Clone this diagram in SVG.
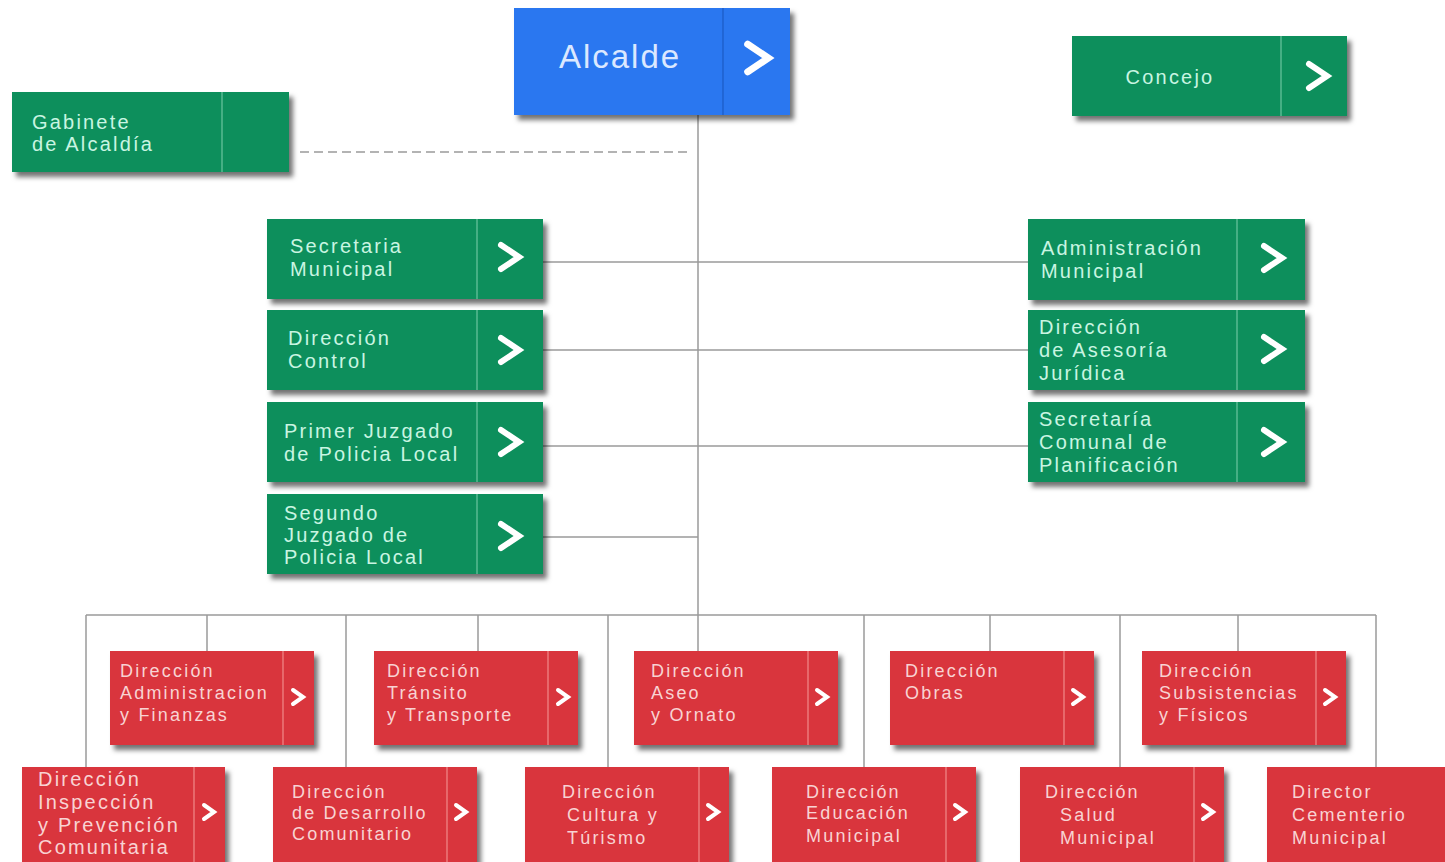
<svg xmlns="http://www.w3.org/2000/svg" width="1445" height="862" viewBox="0 0 1445 862">
<defs>
<filter id="sh" x="-10%" y="-10%" width="130%" height="140%">
<feDropShadow dx="4" dy="5" stdDeviation="2.5" flood-color="#000" flood-opacity="0.55"/>
</filter>
<path id="chevL" d="M-9,-12 L9,0 L-9,12" fill="none" stroke="#ffffff" stroke-width="6" stroke-linecap="round" stroke-linejoin="miter"/>
<path id="chevS" d="M-5,-7 L5,0 L-5,7" fill="none" stroke="#ffffff" stroke-width="4" stroke-linecap="round" stroke-linejoin="miter"/>
</defs>
<style>
.g{fill:#0f8f5c;filter:url(#sh)}
.r{fill:#d9363c;filter:url(#sh)}
.b{fill:#2b77f0;filter:url(#sh)}
.dg{stroke:#6cc59f;stroke-width:1.2}
.dr{stroke:#f08a8a;stroke-width:1.2}
.db{stroke:#1b5bc4;stroke-width:1.2}
.tg{font-family:"Liberation Sans",Arial,sans-serif;font-size:20px;letter-spacing:2.2px;fill:#c9f5e2}
.tr{font-family:"Liberation Sans",Arial,sans-serif;font-size:18px;letter-spacing:2.2px;fill:#f8d3d3}
.tr2{font-family:"Liberation Sans",Arial,sans-serif;font-size:20px;letter-spacing:2.2px;fill:#f8d3d3}
.ta{font-family:"Liberation Sans",Arial,sans-serif;font-size:33px;letter-spacing:2px;fill:#dbe8ff}
.ln{stroke:#9a9a9a;stroke-width:1.5;fill:none}
</style>
<rect width="1445" height="862" fill="#ffffff"/>
<g id="connectors" class="ln">
<path d="M698,115 V651"/>
<path d="M300,152 H690" stroke-dasharray="9 5"/>
<path d="M543,262 H1028 M543,350 H1028 M543,446 H1028 M543,537 H698"/>
<path d="M86,615 H1376"/>
<path d="M86,615 V767 M207,615 V651 M346,615 V767 M478,615 V651 M608,615 V767 M864,615 V767 M990,615 V651 M1120,615 V767 M1238,615 V651 M1376,615 V767"/>
</g>
<g id="alcalde"><rect class="b" x="514" y="8" width="276" height="107"/><line class="db" x1="723" y1="8" x2="723" y2="115"/><text class="ta" x="620" y="68" text-anchor="middle">Alcalde</text><use href="#chevL" transform="translate(758,58) scale(1.15)"/></g>
<g id="concejo"><rect class="g" x="1072" y="36" width="275" height="80"/><line class="dg" x1="1281" y1="36" x2="1281" y2="116"/><text class="tg" x="1170" y="84" text-anchor="middle">Concejo</text><use href="#chevL" transform="translate(1318,76)"/></g>
<g id="gabinete"><rect class="g" x="12" y="92" width="277" height="80"/><line class="dg" x1="222" y1="92" x2="222" y2="172"/><text class="tg" x="32" y="129">Gabinete</text><text class="tg" x="32" y="151">de Alcaldía</text></g>
<g id="secretaria-municipal"><rect class="g" x="267" y="219" width="276" height="80"/><line class="dg" x1="477" y1="219" x2="477" y2="299"/><text class="tg" x="290" y="253">Secretaria</text><text class="tg" x="290" y="276">Municipal</text><use href="#chevL" transform="translate(510,257)"/></g>
<g id="direccion-control"><rect class="g" x="267" y="310" width="276" height="80"/><line class="dg" x1="477" y1="310" x2="477" y2="390"/><text class="tg" x="288" y="345">Dirección</text><text class="tg" x="288" y="368">Control</text><use href="#chevL" transform="translate(510,350)"/></g>
<g id="primer-juzgado"><rect class="g" x="267" y="402" width="276" height="80"/><line class="dg" x1="477" y1="402" x2="477" y2="482"/><text class="tg" x="284" y="438">Primer Juzgado</text><text class="tg" x="284" y="461">de Policia Local</text><use href="#chevL" transform="translate(510,442)"/></g>
<g id="segundo-juzgado"><rect class="g" x="267" y="494" width="276" height="80"/><line class="dg" x1="477" y1="494" x2="477" y2="574"/><text class="tg" x="284" y="520">Segundo</text><text class="tg" x="284" y="542">Juzgado de</text><text class="tg" x="284" y="564">Policia Local</text><use href="#chevL" transform="translate(510,536)"/></g>
<g id="administracion-municipal"><rect class="g" x="1028" y="219" width="277" height="81"/><line class="dg" x1="1237" y1="219" x2="1237" y2="300"/><text class="tg" x="1041" y="255">Administración</text><text class="tg" x="1041" y="278">Municipal</text><use href="#chevL" transform="translate(1273,258)"/></g>
<g id="asesoria-juridica"><rect class="g" x="1028" y="310" width="277" height="80"/><line class="dg" x1="1237" y1="310" x2="1237" y2="390"/><text class="tg" x="1039" y="334">Dirección</text><text class="tg" x="1039" y="357">de Asesoría</text><text class="tg" x="1039" y="380">Jurídica</text><use href="#chevL" transform="translate(1273,349)"/></g>
<g id="secplan"><rect class="g" x="1028" y="402" width="277" height="80"/><line class="dg" x1="1237" y1="402" x2="1237" y2="482"/><text class="tg" x="1039" y="426">Secretaría</text><text class="tg" x="1039" y="449">Comunal de</text><text class="tg" x="1039" y="472">Planificación</text><use href="#chevL" transform="translate(1273,442)"/></g>
<g id="adm-finanzas"><rect class="r" x="110" y="651" width="204" height="94"/><line class="dr" x1="283" y1="651" x2="283" y2="745"/><text class="tr" x="120" y="677">Dirección</text><text class="tr" x="120" y="699">Administracion</text><text class="tr" x="120" y="721">y Finanzas</text><use href="#chevS" transform="translate(298,697)"/></g>
<g id="transito"><rect class="r" x="374" y="651" width="204" height="94"/><line class="dr" x1="548" y1="651" x2="548" y2="745"/><text class="tr" x="387" y="677">Dirección</text><text class="tr" x="387" y="699">Tránsito</text><text class="tr" x="387" y="721">y Transporte</text><use href="#chevS" transform="translate(563,697)"/></g>
<g id="aseo"><rect class="r" x="634" y="651" width="204" height="94"/><line class="dr" x1="808" y1="651" x2="808" y2="745"/><text class="tr" x="651" y="677">Dirección</text><text class="tr" x="651" y="699">Aseo</text><text class="tr" x="651" y="721">y Ornato</text><use href="#chevS" transform="translate(822,697)"/></g>
<g id="obras"><rect class="r" x="890" y="651" width="204" height="94"/><line class="dr" x1="1064" y1="651" x2="1064" y2="745"/><text class="tr" x="905" y="677">Dirección</text><text class="tr" x="905" y="699">Obras</text><use href="#chevS" transform="translate(1078,697)"/></g>
<g id="subsistencias"><rect class="r" x="1142" y="651" width="204" height="94"/><line class="dr" x1="1316" y1="651" x2="1316" y2="745"/><text class="tr" x="1159" y="677">Dirección</text><text class="tr" x="1159" y="699">Subsistencias</text><text class="tr" x="1159" y="721">y Físicos</text><use href="#chevS" transform="translate(1330,697)"/></g>
<g id="inspeccion"><rect class="r" x="22" y="767" width="203" height="100"/><line class="dr" x1="194" y1="767" x2="194" y2="862"/><text class="tr2" x="38" y="786">Dirección</text><text class="tr2" x="38" y="809">Inspección</text><text class="tr2" x="38" y="832">y Prevención</text><text class="tr2" x="38" y="854">Comunitaria</text><use href="#chevS" transform="translate(209,812)"/></g>
<g id="desarrollo"><rect class="r" x="273" y="767" width="204" height="100"/><line class="dr" x1="447" y1="767" x2="447" y2="862"/><text class="tr" x="292" y="798">Dirección</text><text class="tr" x="292" y="819">de Desarrollo</text><text class="tr" x="292" y="840">Comunitario</text><use href="#chevS" transform="translate(461,812)"/></g>
<g id="cultura"><rect class="r" x="525" y="767" width="204" height="100"/><line class="dr" x1="699" y1="767" x2="699" y2="862"/><text class="tr" x="562" y="798">Dirección</text><text class="tr" x="567" y="821">Cultura y</text><text class="tr" x="567" y="844">Túrismo</text><use href="#chevS" transform="translate(713,812)"/></g>
<g id="educacion"><rect class="r" x="772" y="767" width="204" height="100"/><line class="dr" x1="946" y1="767" x2="946" y2="862"/><text class="tr" x="806" y="798">Dirección</text><text class="tr" x="806" y="819">Educación</text><text class="tr" x="806" y="842">Municipal</text><use href="#chevS" transform="translate(960,812)"/></g>
<g id="salud"><rect class="r" x="1020" y="767" width="204" height="100"/><line class="dr" x1="1194" y1="767" x2="1194" y2="862"/><text class="tr" x="1045" y="798">Dirección</text><text class="tr" x="1060" y="821">Salud</text><text class="tr" x="1060" y="844">Municipal</text><use href="#chevS" transform="translate(1208,812)"/></g>
<g id="cementerio"><rect class="r" x="1267" y="767" width="190" height="100"/><text class="tr" x="1292" y="798">Director</text><text class="tr" x="1292" y="821">Cementerio</text><text class="tr" x="1292" y="844">Municipal</text></g>
</svg>
